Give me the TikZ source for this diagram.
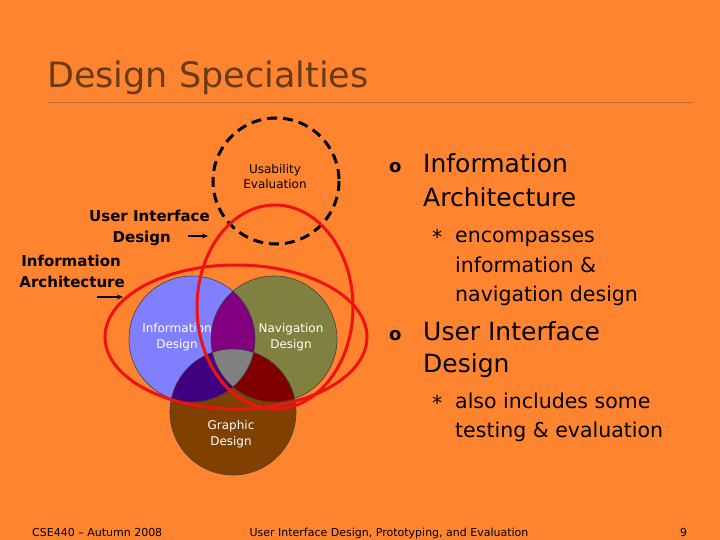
\documentclass[tikz,border=0pt]{standalone}
\usepackage{fontspec}
\setmainfont{DejaVu Sans}
\usetikzlibrary{arrows.meta}

\definecolor{slidebg}{RGB}{255,132,48}
\definecolor{titlebrown}{RGB}{105,58,20}
\definecolor{ruleline}{RGB}{185,110,60}
\definecolor{infoblue}{RGB}{128,128,255}
\definecolor{navgreen}{RGB}{128,128,64}
\definecolor{graphbrown}{RGB}{128,64,0}
\definecolor{lensviolet}{RGB}{128,0,128}
\definecolor{lensindigo}{RGB}{64,0,128}
\definecolor{lensred}{RGB}{128,0,0}
\definecolor{lensgray}{RGB}{128,128,128}
\definecolor{ellred}{RGB}{238,18,18}

\tikzset{
	venntext/.style={text=white, align=center, font=\fontsize{12}{16}\selectfont, inner sep=0pt},
	sidelabel/.style={anchor=base east, font=\bfseries\fontsize{15}{18}\selectfont, inner sep=0pt},
	mainbullet/.style={anchor=base west, font=\fontsize{25}{30}\selectfont, inner sep=0pt},
	bulletmark/.style={anchor=base west, font=\bfseries\fontsize{18}{20}\selectfont, inner sep=0pt},
	subbullet/.style={anchor=base west, font=\fontsize{20.5}{26}\selectfont, inner sep=0pt},
	footer/.style={anchor=base west, font=\fontsize{11}{13}\selectfont, inner sep=0pt},
	smallarrow/.style={-{Stealth[length=6pt, width=5pt]}, line width=1.2pt}
}

\begin{document}
\begin{tikzpicture}[x=1pt, y=-1pt]

		\fill[slidebg] (0,0) rectangle (720,540);
		\useasboundingbox (0,0) rectangle (720,540);

		\node[anchor=base west, text=titlebrown, font=\fontsize{35}{42}\selectfont, inner sep=0pt] (title) at (47,88) {Design Specialties};
		\draw[ruleline, line width=0.8pt] (47,102) -- (694,102);

		\def\rad{63}
		\coordinate (info) at (192,339);
		\coordinate (nav) at (274,339);
		\coordinate (graph) at (233,412);

		\fill[infoblue] (info) circle (\rad);
		\fill[navgreen] (nav) circle (\rad);
		\fill[graphbrown] (graph) circle (\rad);
		\begin{scope}
			\clip (nav) circle (\rad);
			\fill[lensred] (graph) circle (\rad);
		\end{scope}
		\begin{scope}
			\clip (info) circle (\rad);
			\fill[lensviolet] (nav) circle (\rad);
			\fill[lensindigo] (graph) circle (\rad);
			\clip (nav) circle (\rad);
			\fill[lensgray] (graph) circle (\rad);
		\end{scope}
		\draw[black!75, line width=0.6pt] (info) circle (\rad) (nav) circle (\rad) (graph) circle (\rad);

		\node[venntext] (infolabel) at (177,337) {Information\\ Design};
		\node[venntext] (navlabel) at (291,337) {Navigation\\ Design};
		\node[venntext] (graphlabel) at (231,434) {Graphic\\ Design};

		% usability
		\draw[line width=3pt, dash pattern=on 10pt off 6pt] (276,181) circle (63);
		\node[align=center, font=\fontsize{12}{15}\selectfont, inner sep=0pt] (usability) at (275,177) {Usability\\ Evaluation};

		% red ellipses
		\draw[ellred, line width=3pt] (236,337) ellipse (131 and 72);
		\draw[ellred, line width=3pt] (275,307) ellipse (78 and 102);

		\node[sidelabel] (uidA) at (210,222) {User Interface};
		\node[sidelabel] (uidB) at (171,243) {Design};
		\coordinate (uidtail) at (188,236);
		\coordinate (uidhead) at (208,236);
		\draw[smallarrow] (uidtail) -- (uidhead);

		\node[sidelabel] (iaA) at (121,266) {Information};
		\node[sidelabel] (iaB) at (125,287) {Architecture};
		\coordinate (iatail) at (97,297);
		\coordinate (iahead) at (123,297);
		\draw[smallarrow] (iatail) -- (iahead);

		% bullets
		\node[bulletmark] (dotA) at (389,173) {o};
		\node[mainbullet] (iaitemA) at (423,173) {Information};
		\node[mainbullet] (iaitemB) at (423,207) {Architecture};
		\node[subbullet] (starA) at (432,244) {*};
		\node[subbullet] (iasubA) at (455,242) {encompasses};
		\node[subbullet] (iasubB) at (455,272) {information \&};
		\node[subbullet] (iasubC) at (455,301) {navigation design};

		\node[bulletmark] (dotB) at (389,340) {o};
		\node[mainbullet] (uiditemA) at (423,340) {User Interface};
		\node[mainbullet] (uiditemB) at (423,372) {Design};
		\node[subbullet] (starB) at (432,410) {*};
		\node[subbullet] (uidsubA) at (455,408) {also includes some};
		\node[subbullet] (uidsubB) at (455,437) {testing \& evaluation};

		% footer
		\node[footer] (course) at (32,536) {CSE440 – Autumn 2008};
		\node[footer, anchor=base] (lecture) at (389,536) {User Interface Design, Prototyping, and Evaluation};
		\node[footer] (pagenum) at (680,536) {9};

\end{tikzpicture}
\end{document}
